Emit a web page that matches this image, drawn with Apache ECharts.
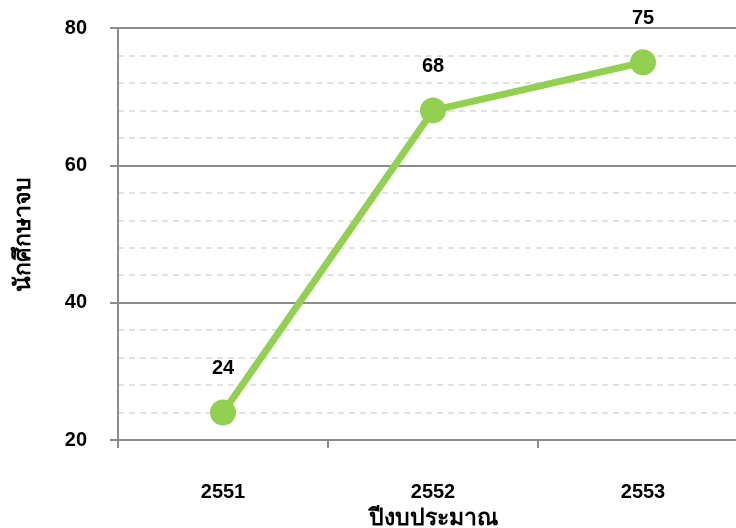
<!DOCTYPE html>
<html>
<head>
<meta charset="utf-8">
<script src="https://cdn.jsdelivr.net/npm/echarts@6/dist/echarts.min.js"></script>
<style>
  html, body { margin: 0; padding: 0; background: #fff; }
  #chart { width: 736px; height: 528px; }
</style>
</head>
<body>
<div id="chart"></div>
<script>
  // data
  const years = ['2551', '2552', '2553']
  const graduates = [24, 68, 75]
  const yTicks = { min: 20, max: 80, step: 20 }
  const xName = 'ปีงบประมาณ'
  const yName = 'นักศึกษาจบ'

  const font = '"Liberation Sans", Arial, "Noto Sans", sans-serif'
  const gray = '#8c8c8c'

  const chart = echarts.init(document.getElementById('chart'))
  const option = {
    animation: false,
    textStyle: { fontFamily: font },
    grid: {
      left: 118,
      top: 28,
      right: -12,
      bottom: 88,
      containLabel: false,
      outerBoundsMode: 'none'
    },
    xAxis: {
      type: 'category',
      data: years,
      boundaryGap: true,
      name: xName,
      nameLocation: 'middle',
      nameGap: 63,
      nameTextStyle: { color: '#000', fontSize: 23, fontWeight: 'bold', fontFamily: font },
      axisLine: { lineStyle: { color: gray, width: 2 } },
      axisTick: { show: true, length: 8, lineStyle: { color: gray, width: 2 } },
      axisLabel: { color: '#000', fontSize: 20, fontWeight: 'bold', margin: 42 },
      splitLine: { show: false }
    },
    yAxis: {
      type: 'value',
      min: yTicks.min,
      max: yTicks.max,
      interval: yTicks.step,
      name: yName,
      nameLocation: 'middle',
      nameGap: 83,
      nameRotate: 90,
      nameTextStyle: { color: '#000', fontSize: 23, fontWeight: 'bold', fontFamily: font },
      axisLine: { show: true, lineStyle: { color: gray, width: 2 } },
      axisTick: { show: true, length: 8, lineStyle: { color: gray, width: 2 } },
      axisLabel: { color: '#000', fontSize: 20, fontWeight: 'bold', margin: 31 },
      splitLine: { show: true, lineStyle: { color: gray, width: 2 } },
      minorTick: { show: false, splitNumber: 5 },
      minorSplitLine: { show: true, lineStyle: { color: '#d9d9d9', width: 1.5, type: [6, 5] } }
    },
    series: [{
      type: 'line',
      data: graduates,
      symbol: 'circle',
      symbolSize: 26,
      lineStyle: { color: '#92d050', width: 7 },
      itemStyle: { color: '#92d050' },
      label: {
        show: true,
        position: 'top',
        distance: 21,
        color: '#000',
        fontSize: 20,
        fontWeight: 'bold'
      }
    }]
  }
  chart.setOption(option)
</script>
</body>
</html>
